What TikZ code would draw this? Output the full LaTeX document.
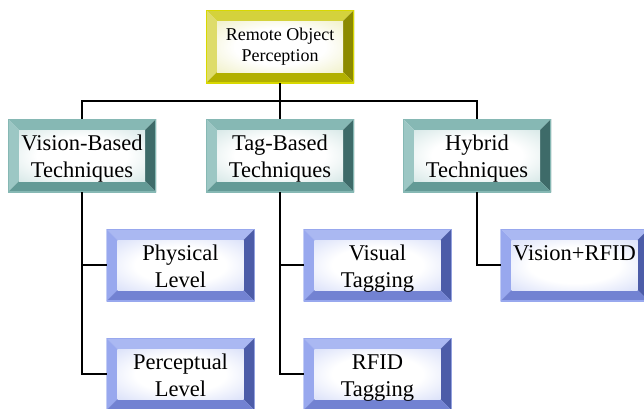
\documentclass[tikz,border=0pt]{standalone}
\usepackage{fontspec}
\setmainfont{Liberation Serif}
\usetikzlibrary{calc}

% bevel colours: olive (root), teal (categories), blue (leaves)
\definecolor{olTop}{HTML}{D4D23C}
\definecolor{olLeft}{HTML}{DEDC6A}
\definecolor{olRight}{HTML}{8C8A00}
\definecolor{olBottom}{HTML}{B2B000}
\definecolor{olFace}{HTML}{E4E49A}
\definecolor{olEdge}{HTML}{D8D800}

\definecolor{tlTop}{HTML}{86B8B4}
\definecolor{tlLeft}{HTML}{9CC7C4}
\definecolor{tlRight}{HTML}{3E6B69}
\definecolor{tlBottom}{HTML}{639A96}
\definecolor{tlFace}{HTML}{B4D4D2}
\definecolor{tlEdge}{HTML}{86B8B4}

\definecolor{blTop}{HTML}{AAB8F2}
\definecolor{blLeft}{HTML}{98A8EE}
\definecolor{blRight}{HTML}{4C5CA8}
\definecolor{blBottom}{HTML}{7282D2}
\definecolor{blFace}{HTML}{BAC6F4}
\definecolor{blEdge}{HTML}{98A8EE}

\pgfdeclareradialshading[facecol]{facegrad}{\pgfpoint{0bp}{0bp}}{%
  color(0bp)=(white); color(18bp)=(white); color(52bp)=(facecol); color(75bp)=(facecol)}

\newcommand\bevelwidth{11pt}
% four bevel strips, a shaded face and a thin rim
\newcommand\bevelpaint[6]{%
  \coordinate (bNW) at (path picture bounding box.north west);
  \coordinate (bNE) at (path picture bounding box.north east);
  \coordinate (bSW) at (path picture bounding box.south west);
  \coordinate (bSE) at (path picture bounding box.south east);
  \coordinate (iNW) at ([xshift=\bevelwidth,yshift=-\bevelwidth]bNW);
  \coordinate (iNE) at ([xshift=-\bevelwidth,yshift=-\bevelwidth]bNE);
  \coordinate (iSW) at ([xshift=\bevelwidth,yshift=\bevelwidth]bSW);
  \coordinate (iSE) at ([xshift=-\bevelwidth,yshift=\bevelwidth]bSE);
  \fill[#1] (bNW) -- (bNE) -- (iNE) -- (iNW) -- cycle;
  \fill[#2] (bNW) -- (iNW) -- (iSW) -- (bSW) -- cycle;
  \fill[#3] (bNE) -- (bSE) -- (iSE) -- (iNE) -- cycle;
  \fill[#4] (bSW) -- (iSW) -- (iSE) -- (bSE) -- cycle;
  \colorlet{facecol}{#5}%
  \shade[shading=facegrad] (iNW) rectangle (iSE);
  \draw[#6, line width=1.4pt] (bNW) rectangle (bSE);
}

% two text lines at fixed places: a tall first line pushes the pair a little down
\newcommand\twolines[2]{\rule{0pt}{26pt}#1\\\strut#2}

\tikzset{
  box/.style={rectangle, inner sep=0pt, outer sep=0pt, align=center,
    minimum width=148pt, text=black},
  rootbox/.style={box, minimum height=73pt,
    font=\fontsize{18}{20.5}\selectfont,
    path picture={\bevelpaint{olTop}{olLeft}{olRight}{olBottom}{olFace}{olEdge}}},
  techbox/.style={box, minimum height=73pt,
    font=\fontsize{22.5}{27}\selectfont,
    path picture={\bevelpaint{tlTop}{tlLeft}{tlRight}{tlBottom}{tlFace}{tlEdge}}},
  leafbox/.style={box, minimum height=72pt,
    font=\fontsize{22.5}{27}\selectfont,
    path picture={\bevelpaint{blTop}{blLeft}{blRight}{blBottom}{blFace}{blEdge}}},
  link/.style={draw=black, line width=1.8pt}
}

\begin{document}
\begin{tikzpicture}[x=1pt, y=-1pt]
\useasboundingbox (0,0) rectangle (644,408);

\node[rootbox] (root) at (280,46.5) {Remote Object\\Perception};

\node[techbox] (vis) at (82,155.5)  {\twolines{Vision-Based}{Techniques}};
\node[techbox] (tag) at (280,155.5) {\twolines{Tag-Based}{Techniques}};
\node[techbox] (hyb) at (477,155.5) {\twolines{Hybrid}{Techniques}};

\node[leafbox] (phys) at (180.5,265) {\twolines{Physical}{Level}};
\node[leafbox] (perc) at (180.5,374) {\twolines{Perceptual}{Level}};
\node[leafbox] (vtag) at (377.5,265) {\twolines{Visual}{Tagging}};
\node[leafbox] (rfid) at (377.5,374) {\twolines{RFID}{Tagging}};
\node[leafbox] (vr)   at (574.5,265) {\twolines{Vision+RFID}{}};

% tree links
\coordinate (hub) at ($(root.south)+(0,18)$);
\draw[link] (root.south) -- (tag.north);
\draw[link] (vis.north) -- (vis.north |- hub) -- (hyb.north |- hub) -- (hyb.north);

\draw[link] (vis.south) |- (perc.west);
\draw[link] (vis.south |- phys.west) -- (phys.west);
\draw[link] (tag.south) |- (rfid.west);
\draw[link] (tag.south |- vtag.west) -- (vtag.west);
\draw[link] (hyb.south) |- (vr.west);
\end{tikzpicture}
\end{document}
